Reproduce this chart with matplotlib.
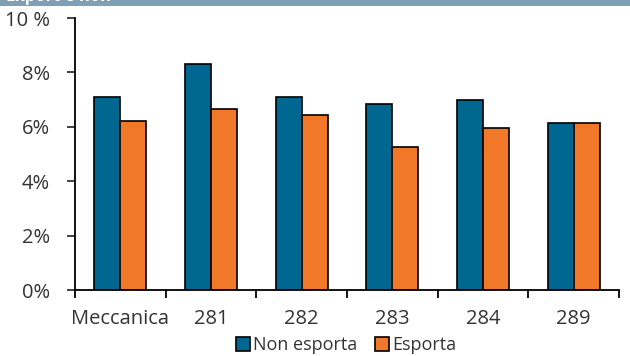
import matplotlib.pyplot as plt
import numpy as np
from matplotlib.patches import Rectangle

categories = ["Meccanica", "281", "282", "283", "284", "289"]
non_esporta = [7.1, 8.3, 7.1, 6.85, 7.0, 6.15]
esporta = [6.2, 6.65, 6.45, 5.25, 5.95, 6.15]
yticks = [0, 2, 4, 6, 8, 10]
ytick_labels = ["0%", "2%", "4%", "6%", "8%", "10 %"]

blue = "#006890"
orange = "#f07828"
txt = "#333333"

plt.rcParams["font.family"] = ["Open Sans", "DejaVu Sans"]

fig = plt.figure(figsize=(6.3, 3.56), dpi=100)
ax = fig.add_axes([75 / 630, 66 / 356, 544 / 630, 272 / 356])

# header strip cut off at the top
fig.patches.append(Rectangle((0, 0.982), 1, 0.02, transform=fig.transFigure,
                             facecolor="#7f9fb5", edgecolor="none"))
fig.text(0.01, 0.985, "Export e non", color="white", fontsize=12,
         fontweight="bold", va="bottom", clip_on=False)

x = np.arange(len(categories))
w = 0.285
ax.bar(x - w / 2, non_esporta, w, color=blue, edgecolor="black", linewidth=1.2,
       label="Non esporta")
ax.bar(x + w / 2, esporta, w, color=orange, edgecolor="black", linewidth=1.2,
       label="Esporta")

ax.set_xlim(-0.5, len(categories) - 0.5)
ax.set_ylim(0, 10)
ax.set_yticks(yticks)
ax.set_yticklabels(ytick_labels)
ax.set_xticks(x)
ax.set_xticklabels(categories)
ax.set_xticks(np.arange(-0.5, len(categories)), minor=True)
ax.tick_params(axis="x", which="major", length=0, pad=14, labelsize=14.5, colors=txt)
ax.tick_params(axis="x", which="minor", length=6, width=1.3, direction="out")
ax.tick_params(axis="y", length=6, width=1.3, labelsize=14.5, colors=txt, pad=12)
for lab in ax.get_xticklabels() + ax.get_yticklabels():
    lab.set_color(txt)

for s in ["top", "right"]:
    ax.spines[s].set_visible(False)
for s in ["left", "bottom"]:
    ax.spines[s].set_linewidth(1.3)

fig.legend(loc="center", bbox_to_anchor=(0.549, 0.03), ncol=2, frameon=False,
           fontsize=13, handlelength=0.8, handleheight=0.8, handletextpad=0.15,
           columnspacing=1.0, labelcolor=txt, borderpad=0)

fig.savefig("out.png", dpi=100)
